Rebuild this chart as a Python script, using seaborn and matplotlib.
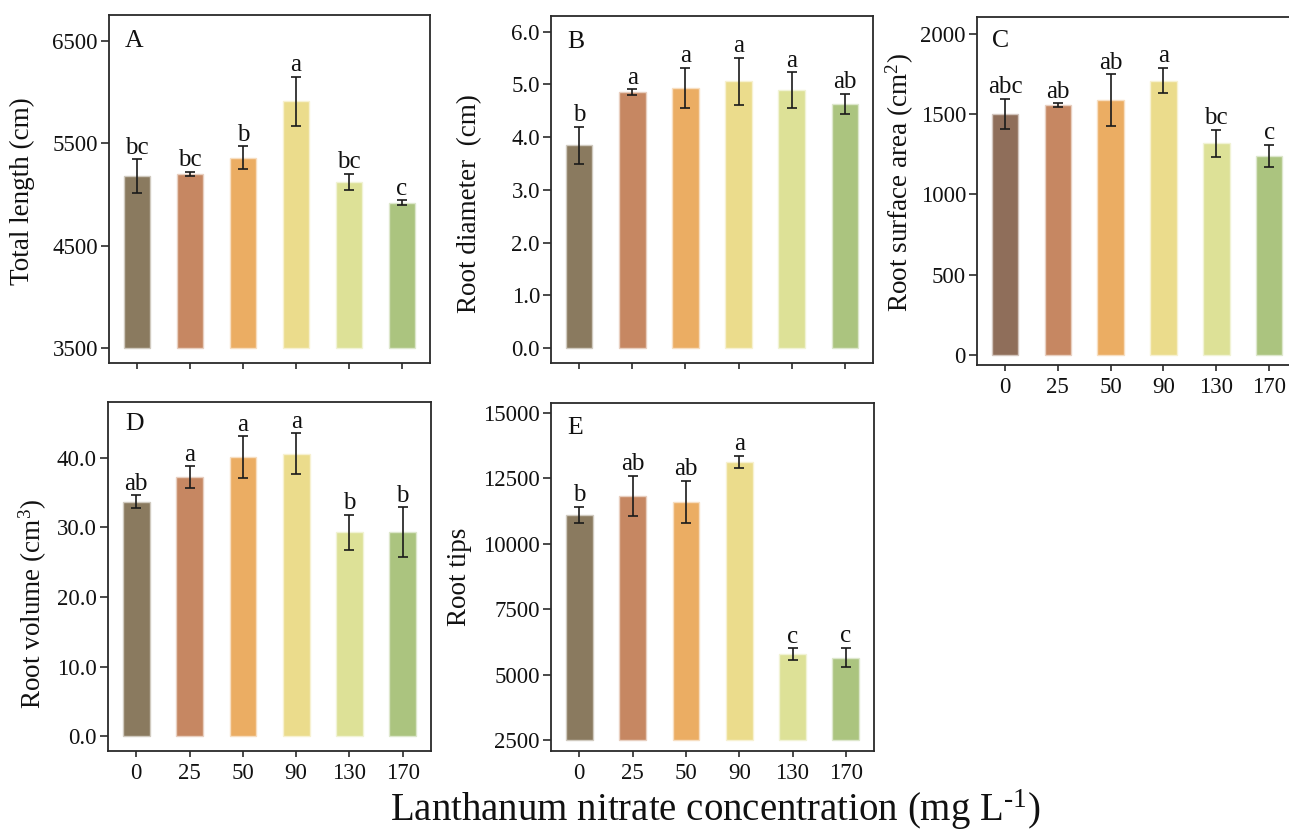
import numpy as np
import pandas as pd
import matplotlib
matplotlib.use("Agg")
import matplotlib.pyplot as plt
import seaborn as sns

# ---------------- data ----------------
categories = ["0", "25", "50", "90", "130", "170"]

length_mean = [5181, 5204, 5361, 5910, 5120, 4918]
length_err = [165, 20, 110, 240, 80, 25]
length_letters = ["bc", "bc", "b", "a", "bc", "c"]

diam_mean = [3.85, 4.86, 4.94, 5.06, 4.89, 4.63]
diam_err = [0.35, 0.05, 0.38, 0.45, 0.34, 0.19]
diam_letters = ["b", "a", "a", "a", "a", "ab"]

area_mean = [1499, 1555, 1586, 1708, 1318, 1238]
area_err = [95, 10, 160, 80, 85, 70]
area_letters = ["abc", "ab", "ab", "a", "bc", "c"]

vol_mean = [33.7, 37.2, 40.1, 40.6, 29.3, 29.3]
vol_err = [0.9, 1.6, 3.0, 2.9, 2.5, 3.6]
vol_letters = ["ab", "a", "a", "a", "b", "b"]

tips_mean = [11114, 11830, 11600, 13131, 5781, 5651]
tips_err = [310, 780, 800, 230, 230, 380]
tips_letters = ["b", "ab", "ab", "a", "c", "c"]

palette = ["#8A7A5F", "#C68762", "#EBAD63", "#EBDC8C", "#DDE197", "#ABC47F"]
palette_c = ["#8F6E5A", "#C68762", "#EBAD63", "#EBDC8C", "#DDE197", "#ABC47F"]

# ---------------- style ----------------
sns.set_style("ticks")
plt.rcParams["font.family"] = ["Liberation Serif", "DejaVu Serif"]
plt.rcParams["mathtext.fontset"] = "custom"
plt.rcParams["mathtext.rm"] = "Liberation Serif"
plt.rcParams["mathtext.it"] = "Liberation Serif:italic"
plt.rcParams["mathtext.bf"] = "Liberation Serif:bold"

SPINE = "#2a2a2a"
TXT = "#111111"


def lighten(c, f=0.6):
    r, g, b = matplotlib.colors.to_rgb(c)
    return (r + (1 - r) * f, g + (1 - g) * f, b + (1 - b) * f)


fig = plt.figure(figsize=(12.89, 8.30), dpi=100)

panels = [
    dict(rect=[0.0846, 0.5627, 0.2490, 0.4193], mean=length_mean, err=length_err,
         letters=length_letters, base=3500, ylim=(3354, 6754),
         yticks=[3500, 4500, 5500, 6500], fmt="{:.0f}", ylabel="Total length (cm)",
         tag="A", xlabels=False, pal=palette, lab=(-0.271, 0.494), tagpos=(0.05, 0.908)),
    dict(rect=[0.4275, 0.5627, 0.2498, 0.4181], mean=diam_mean, err=diam_err,
         letters=diam_letters, base=0, ylim=(-0.28, 6.3),
         yticks=[0, 1, 2, 3, 4, 5, 6], fmt="{:.1f}", ylabel="Root diameter  (cm)",
         tag="B", xlabels=False, pal=palette, lab=(-0.252, 0.458), tagpos=(0.05, 0.908)),
    dict(rect=[0.7580, 0.5602, 0.2483, 0.4193], mean=area_mean, err=area_err,
         letters=area_letters, base=0, ylim=(-62, 2103),
         yticks=[0, 500, 1000, 1500, 2000], fmt="{:.0f}", ylabel="Root surface area (cm$^2$)",
         tag="C", xlabels=True, pal=palette_c, lab=(-0.24, 0.523), tagpos=(0.047, 0.914)),
    dict(rect=[0.0838, 0.0952, 0.2506, 0.4205], mean=vol_mean, err=vol_err,
         letters=vol_letters, base=0, ylim=(-2.1, 48),
         yticks=[0, 10, 20, 30, 40], fmt="{:.1f}", ylabel="Root volume (cm$^3$)",
         tag="D", xlabels=True, pal=palette, lab=(-0.232, 0.421), tagpos=(0.053, 0.92)),
    dict(rect=[0.4275, 0.0952, 0.2506, 0.4193], mean=tips_mean, err=tips_err,
         letters=tips_letters, base=2500, ylim=(2079, 15383),
         yticks=[2500, 5000, 7500, 10000, 12500, 15000], fmt="{:.0f}", ylabel="Root tips",
         tag="E", xlabels=True, pal=palette, lab=(-0.282, 0.5), tagpos=(0.05, 0.911)),
]

for p in panels:
    ax = fig.add_axes(p["rect"])
    mean = np.array(p["mean"], dtype=float)
    df = pd.DataFrame({"conc": categories, "height": mean - p["base"]})
    sns.barplot(data=df, x="conc", y="height", hue="conc", order=categories,
                hue_order=categories, palette=p["pal"], legend=False, width=0.5,
                errorbar=None, bottom=p["base"], ax=ax, saturation=1, linewidth=1.0)
    for patch in ax.patches:
        patch.set_edgecolor(lighten(patch.get_facecolor()))
    ax.errorbar(np.arange(len(categories)), mean, yerr=p["err"], fmt="none",
                ecolor="#1a1a1a", elinewidth=1.2, capsize=3.5, capthick=1.2, zorder=5)
    for i, (m, e, l) in enumerate(zip(mean, p["err"], p["letters"])):
        ax.annotate(l, xy=(i, m + e), xytext=(0, 4), textcoords="offset points",
                    ha="center", va="baseline", fontsize=18, color=TXT)
    ax.set_xlim(-0.53, 5.53)
    ax.set_ylim(*p["ylim"])
    ax.set_yticks(p["yticks"])
    ax.set_yticklabels([p["fmt"].format(v) for v in p["yticks"]])
    ax.set_xlabel("")
    ax.set_ylabel(p["ylabel"], fontsize=19.5, color=TXT, va="center", ha="center")
    ax.yaxis.set_label_coords(*p["lab"])
    if not p["xlabels"]:
        ax.set_xticklabels([])
    for s in ax.spines.values():
        s.set_color(SPINE)
        s.set_linewidth(1.3)
        s.set_visible(True)
    ax.tick_params(axis="y", direction="out", length=6, width=1.2, color=SPINE,
                   labelsize=16.5, pad=2, labelcolor=TXT)
    ax.tick_params(axis="x", direction="out", length=4.5, width=1.2, color=SPINE,
                   labelsize=16.5, pad=4, labelcolor=TXT)
    ax.text(p["tagpos"][0], p["tagpos"][1], p["tag"], transform=ax.transAxes,
            fontsize=18.5, va="baseline", ha="left", color=TXT)

fig.text(0.555, 0.024, r"Lanthanum nitrate concentration (mg L$^{\text{-}1}$)",
         ha="center", va="center", fontsize=28, color=TXT)

fig.savefig("out.png", dpi=100)
